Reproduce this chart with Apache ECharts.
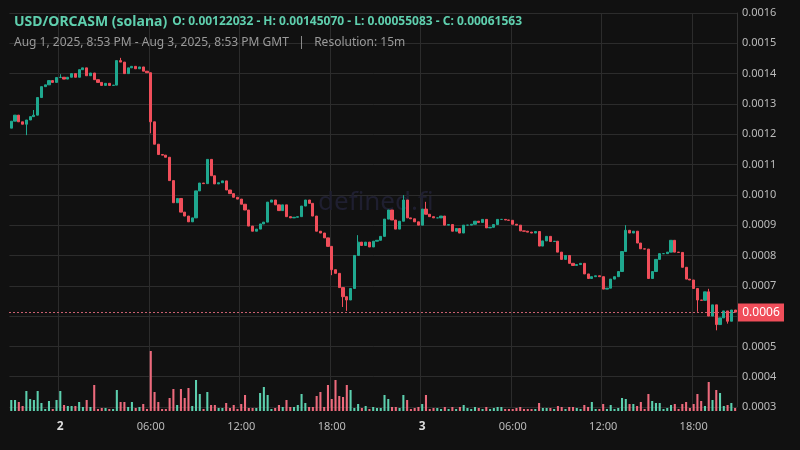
<!DOCTYPE html>
<html>
<head>
<meta charset="utf-8">
<script src="https://cdn.jsdelivr.net/npm/echarts@6/dist/echarts.min.js"></script>
<style>html,body{margin:0;background:#111;}#main{width:800px;height:450px;}</style>
</head>
<body>
<div id="main"></div>
<script>
// 15m closes, Aug 1 20:45 -> Aug 3 20:45 GMT
var closes = [
  0.001243,0.001263,0.001241,0.001233,0.001247,0.001258,0.001263,0.001321,0.001357,0.001363,
  0.001377,0.001371,0.001387,0.001388,0.001382,0.001388,0.001400,0.001388,0.001413,0.001419,
  0.001393,0.001402,0.001380,0.001371,0.001361,0.001368,0.001361,0.001362,0.001443,0.001438,
  0.001400,0.001419,0.001424,0.001416,0.001422,0.001408,0.001403,0.001241,0.001167,0.001133,
  0.001131,0.001124,0.001047,0.000974,0.000988,0.000943,0.000930,0.000911,0.000924,0.001013,
  0.001039,0.001037,0.001117,0.001063,0.001036,0.001040,0.001046,0.001016,0.001004,0.000992,
  0.000986,0.000969,0.000950,0.000897,0.000880,0.000887,0.000904,0.000910,0.000976,0.000983,
  0.000967,0.000948,0.000967,0.000928,0.000924,0.000926,0.000928,0.000963,0.000983,0.000972,
  0.000930,0.000880,0.000874,0.000858,0.000830,0.000753,0.000741,0.000694,0.000664,0.000653,
  0.000691,0.000800,0.000844,0.000833,0.000844,0.000828,0.000847,0.000850,0.000863,0.000920,
  0.000950,0.000917,0.000887,0.000913,0.000983,0.000924,0.000921,0.000911,0.000900,0.000953,
  0.000936,0.000928,0.000924,0.000924,0.000930,0.000900,0.000902,0.000880,0.000889,0.000874,
  0.000900,0.000900,0.000903,0.000913,0.000909,0.000919,0.000891,0.000893,0.000902,0.000919,
  0.000919,0.000917,0.000916,0.000903,0.000900,0.000881,0.000880,0.000877,0.000874,0.000879,
  0.000831,0.000848,0.000863,0.000846,0.000847,0.000811,0.000787,0.000800,0.000774,0.000767,
  0.000770,0.000774,0.000739,0.000724,0.000730,0.000733,0.000730,0.000689,0.000692,0.000722,
  0.000730,0.000747,0.000813,0.000883,0.000874,0.000880,0.000841,0.000822,0.000821,0.000724,
  0.000747,0.000787,0.000806,0.000806,0.000811,0.000850,0.000811,0.000810,0.000761,0.000722,
  0.000719,0.000691,0.000653,0.000652,0.000680,0.000600,0.000637,0.000572,0.000594,0.000617,
  0.000583,0.000620,0.000613
];
var firstOpen = 0.00122;
// notable wicks
var wickHigh = {6: 0.00128, 13: 0.001398, 29: 0.001452, 92: 0.000867, 104: 0.000999, 110: 0.000977, 163: 0.000900, 185: 0.000690};
var wickLow = {4: 0.001197, 7: 0.001305, 37: 0.001203, 85: 0.000735, 88: 0.000630, 89: 0.000617, 182: 0.000614, 187: 0.000553, 190: 0.000575};
var volumes = [
  11,11,9,5,20,12,11,20,8,2, 10,2,11,20,6,5,5,5,9,4, 11,4,26,2,3,3,2,2,21,9,
  9,4,9,3,4,7,2,60,19,9, 2,2,13,22,6,22,13,23,5,31, 17,2,19,6,6,3,3,8,3,6,
  2,7,16,3,3,3,18,24,16,2, 3,6,4,11,4,4,6,17,8,4, 4,15,19,4,26,12,31,15,14,26,
  21,3,7,3,5,2,4,3,3,16, 12,4,4,3,16,11,2,3,4,7, 16,2,3,3,2,4,2,4,2,4,
  6,3,2,4,3,2,4,2,3,4, 4,2,2,2,3,4,2,2,2,2, 8,3,3,3,2,5,4,2,4,4,
  3,2,6,4,9,2,2,7,2,6, 2,3,13,12,7,7,5,9,2,17, 10,8,8,2,3,6,7,2,7,9,
  3,7,17,10,5,29,11,21,18,5, 6,8,3
];
var lastLabel = '0.0006';

var times = [];
var ohlc = [];
var volData = [];
var start = Date.UTC(2025, 7, 1, 20, 45);
for (var i = 0; i < closes.length; i++) {
  var d = new Date(start + i * 15 * 60000);
  times.push(d.getUTCDate() + ' ' + ('0' + d.getUTCHours()).slice(-2) + ':' + ('0' + d.getUTCMinutes()).slice(-2));
  var o = i === 0 ? firstOpen : closes[i - 1];
  var c = closes[i];
  var h = wickHigh[i] !== undefined ? wickHigh[i] : Math.max(o, c);
  var l = wickLow[i] !== undefined ? wickLow[i] : Math.min(o, c);
  ohlc.push([o, c, l, h]);
  volData.push({value: volumes[i], itemStyle: {color: c >= o ? '#5ccfae' : '#ec6a7c'}});
}

function isTick(idx) {
  var t = times[idx].split(' ')[1];
  return t === '00:00' || t === '06:00' || t === '12:00' || t === '18:00';
}

var chart = echarts.init(document.getElementById('main'));
chart.setOption({
  backgroundColor: '#111111',
  animation: false,
  title: {
    left: 9, top: 8,
    text: '{a|USD/ORCASM (solana)} {b|O: 0.00122032 - H: 0.00145070 - L: 0.00055083 - C: 0.00061563}',
    subtext: 'Aug 1, 2025, 8:53 PM - Aug 3, 2025, 8:53 PM GMT   |   Resolution: 15m',
    itemGap: 6,
    textStyle: {
      rich: {
        a: {color: '#5fcfae', fontSize: 14, fontFamily: 'Noto Sans'},
        b: {color: '#5fcfae', fontSize: 12, fontFamily: 'Noto Sans'}
      }
    },
    subtextStyle: {color: '#9a9a9a', fontSize: 12, fontFamily: 'Noto Sans'}
  },
  grid: [
    {left: 9.4, right: 63, top: 13, bottom: 43},
    {left: 9.4, right: 63, top: 311, bottom: 39}
  ],
  xAxis: [{
    type: 'category', data: times, gridIndex: 0,
    axisLine: {show: false}, axisTick: {show: false},
    axisLabel: {
      interval: function (idx) { return isTick(idx); },
      margin: 14,
      color: '#bbb', fontSize: 11, fontFamily: 'Noto Sans',
      formatter: function (v) {
        var p = v.split(' ');
        return p[1] === '00:00' ? '{d|' + p[0] + '}' : p[1];
      },
      rich: {d: {fontWeight: 'bold', color: '#ddd', fontSize: 12}}
    },
    splitLine: {show: true, interval: function (idx) { return isTick(idx); }, lineStyle: {color: '#2c2c2c'}}
  }, {
    type: 'category', data: times, gridIndex: 1,
    axisLine: {show: false}, axisTick: {show: false}, axisLabel: {show: false}, splitLine: {show: false}
  }],
  yAxis: [{
    type: 'value', position: 'right', gridIndex: 0,
    min: 0.0003, max: 0.0016, interval: 0.0001,
    axisLine: {show: true, lineStyle: {color: '#333'}},
    axisTick: {show: false},
    axisLabel: {color: '#bbb', fontSize: 11, fontFamily: 'Noto Sans', margin: 5,
      formatter: function (v) { return v.toFixed(4); }},
    splitLine: {lineStyle: {color: '#2c2c2c'}}
  }, {
    type: 'value', gridIndex: 1, min: 0, max: 100, show: false
  }],
  series: [{
    type: 'candlestick', data: ohlc, xAxisIndex: 0, yAxisIndex: 0,
    barWidth: '70%',
    itemStyle: {color: '#1fa88f', color0: '#f04e5a', borderColor: '#1fa88f', borderColor0: '#f04e5a'}
  }, {
    type: 'bar', data: volData, xAxisIndex: 1, yAxisIndex: 1, barWidth: '55%'
  }]
});

// watermark, last-price line and tag, placed through the price scale
var yLast = Math.round(chart.convertToPixel({yAxisIndex: 0}, closes[closes.length - 1])) + 0.5;
chart.setOption({
  graphic: [{
    type: 'text', left: 318, top: 190, silent: true, z: 0,
    style: {text: 'defined.fi', fill: '#1f1f30', fontSize: 26, fontFamily: 'Noto Sans'}
  }, {
    type: 'line', z: 99, silent: true,
    shape: {x1: 9, y1: yLast, x2: 737, y2: yLast},
    style: {stroke: '#c86070', lineWidth: 1, lineDash: [2, 2]}
  }, {
    type: 'rect', shape: {x: 738, y: yLast - 9, width: 46, height: 18}, style: {fill: '#f04e5a'}, z: 100
  }, {
    type: 'text', x: 761, y: yLast, z: 101,
    style: {text: lastLabel, fill: '#fff', fontSize: 12, fontFamily: 'Noto Sans', align: 'center', verticalAlign: 'middle'}
  }]
});
</script>
</body>
</html>
